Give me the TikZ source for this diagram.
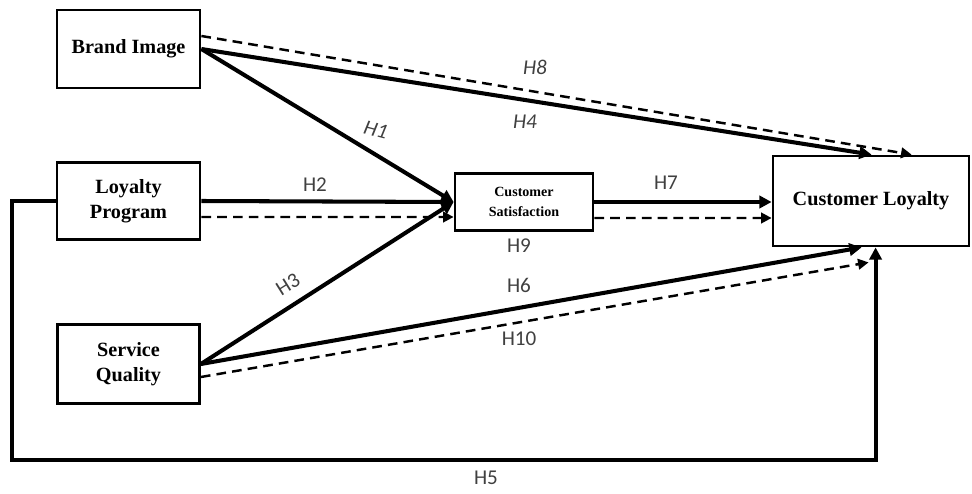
\documentclass[tikz,border=0pt]{standalone}
\usepackage{fontspec}
\setmainfont{Liberation Serif}
\newfontfamily\hfont{Carlito}
\usetikzlibrary{arrows.meta}

\tikzset{
	box/.style={draw, line width=1.6pt, align=center, inner sep=0pt, font=\bfseries\fontsize{11.5}{14}\selectfont},
	hyp/.style={font=\hfont\fontsize{12}{14}\selectfont, text=black!75},
	solidarr/.style={line width=2.3pt, -{Triangle[length=7pt,width=7pt]}},
	dasharr/.style={line width=1.4pt, dash pattern=on 5.5pt off 3.5pt, -{Triangle[length=6pt,width=6pt]}}
}

\begin{document}
\begin{tikzpicture}[x=0.02cm,y=-0.02cm]
		\useasboundingbox (0,0) rectangle (972,493);
		
		\node (brand) at (128.5,49) [box, minimum width=2.86cm, minimum height=1.56cm] {Brand Image};
		\node (loyal) at (128.5,201) [box, minimum width=2.86cm, minimum height=1.54cm] {Loyalty\\Program};
		\node (service) at (128.5,364) [box, minimum width=2.84cm, minimum height=1.58cm] {Service\\Quality};
		\node (satis) at (524,202) [box, minimum width=2.76cm, minimum height=1.14cm, font=\bfseries\fontsize{8}{11}\selectfont] {Customer\\Satisfaction};
		\node (cloyal) at (871,201) [box, minimum width=3.92cm, minimum height=1.8cm] {Customer Loyalty};
		
		\coordinate (cornerL) at (12,460);
		
		\draw [dasharr] ([yshift=0.26cm]brand.east) -- ([xshift=2.8cm]cloyal.north west);
		\draw [solidarr] (brand.east) -- ([xshift=2cm]cloyal.north west);
		\draw [solidarr] (brand.east) -- (satis.west);
		\draw [solidarr] (loyal.east) -- (satis.west);
		\draw [dasharr] ([yshift=-0.32cm]loyal.east) -- ([yshift=-0.3cm]satis.west);
		\draw [solidarr] (service.east) -- (satis.west);
		\draw [solidarr] (service.east) -- ([xshift=1.8cm]cloyal.south west);
		\draw [dasharr] ([yshift=-0.26cm]service.east) -- ([xshift=1.94cm,yshift=-0.3cm]cloyal.south west);
		\draw [solidarr] (satis.east) -- ([yshift=-0.02cm]cloyal.west);
		\draw [dasharr] ([yshift=-0.32cm]satis.east) -- ([yshift=-0.34cm]cloyal.west);
		\draw [line width=2.3pt, -{Triangle[length=7pt,width=7pt]}] (loyal.west) -| (cornerL) -| ([xshift=2.08cm]cloyal.south west);
		
		\node (h8) at (535,67) [hyp] {\itshape H8};
		\node (h4) at (525,122) [hyp] {\itshape H4};
		\node (h1) at (376,130) [hyp, rotate=-15] {\itshape H1};
		\node (h2) at (315,185) [hyp] {H2};
		\node (h7) at (666,183) [hyp] {H7};
		\node (h9) at (519,246) [hyp] {H9};
		\node (h3) at (288,284) [hyp, rotate=32] {H3};
		\node (h6) at (519,285) [hyp] {H6};
		\node (h10) at (519,339) [hyp] {H10};
		\node (h5) at (486,478) [hyp] {H5};
	\end{tikzpicture}
\end{document}
